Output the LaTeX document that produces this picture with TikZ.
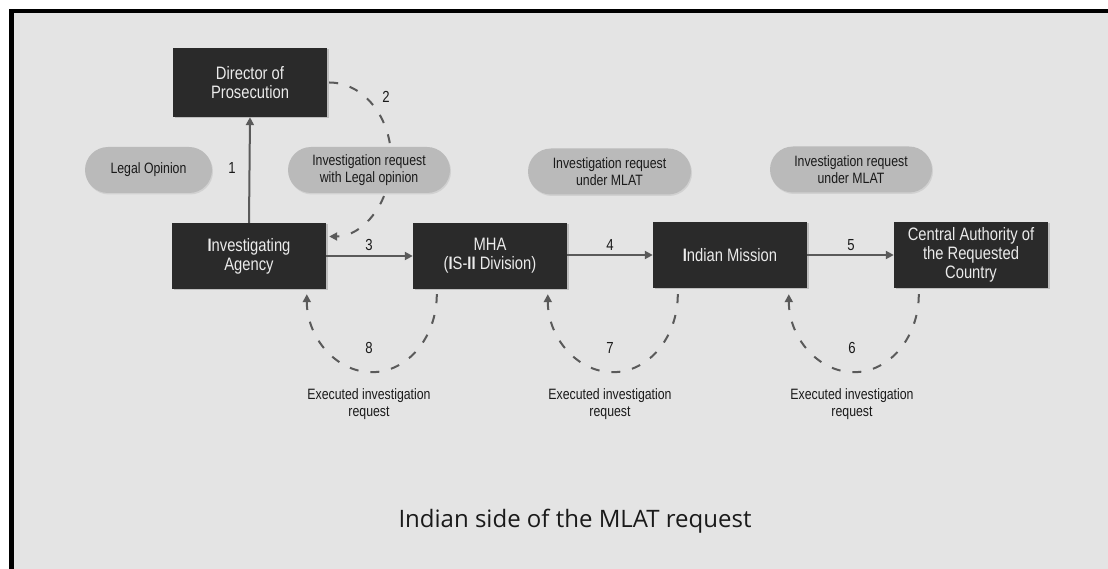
\documentclass[tikz,border=0pt]{standalone}
\usepackage{fontspec}
\newfontfamily\narrow[FakeStretch=0.82]{Liberation Sans}
\newfontfamily\titlefont{Open Sans}
\usetikzlibrary{arrows.meta,shadows}
\definecolor{bg}{HTML}{E4E4E4}
\definecolor{boxfill}{HTML}{2A2A2A}
\definecolor{pillfill}{HTML}{BABABA}
\definecolor{arrowgray}{HTML}{5A5A5A}
\definecolor{txt}{HTML}{1A1A1A}
\tikzset{
  box/.style={fill=boxfill, text=white!92!black, minimum width=154pt, minimum height=66pt,
    inner sep=0pt, align=center, font=\fontsize{18}{19}\selectfont\narrow,
    drop shadow={shadow xshift=1.5pt, shadow yshift=-1.5pt, fill=black!35, opacity=0.6}},
  pill/.style={fill=pillfill, text=txt, minimum height=46pt, rounded corners=23pt,
    inner sep=0pt, align=center, font=\fontsize{15}{17}\selectfont\narrow,
    drop shadow={shadow xshift=1pt, shadow yshift=-1.5pt, fill=black!25, opacity=0.5}},
  num/.style={text=txt, inner sep=0pt, font=\fontsize{16}{18}\selectfont\narrow},
  lbl/.style={text=txt, inner sep=0pt, align=center, font=\fontsize{15}{17}\selectfont\narrow},
  flow/.style={draw=arrowgray, line width=2pt, -{Triangle[length=8pt,width=8pt]}},
  ret/.style={draw=arrowgray, line width=2pt, dash pattern=on 9pt off 12pt,
    -{Triangle[length=8pt,width=8pt]}},
}
\begin{document}
\begin{tikzpicture}[x=1pt,y=-1pt]
\useasboundingbox (0,0) rectangle (1108,569);
\fill[white] (0,0) rectangle (1108,569);
\fill[black] (9,9) rectangle (1108,569);
\fill[bg] (14,13.5) rectangle (1108,569);

% boxes
\node[box] (dp) at (250,82.5) [minimum height=69pt] {Director of\\Prosecution};
\node[box] (ia) at (249,256) {\textbf{I}nvestigating\\Agency};
\node[box] (mha) at (490,256) {MHA\\(\textbf{I}S-\textbf{II} Division)};
\node[box] (im) at (730,255) {\textbf{I}ndian Mission};
\node[box] (ca) at (971,255) {Central Authority of\\the Requested\\Country};

% dashed return arcs
\draw[ret] ([xshift=2pt]dp.east) arc[start angle=90, end angle=-90, x radius=62pt, y radius=77pt];
\draw[ret] ([xshift=24pt,yshift=-5pt]mha.south west) arc[start angle=0, end angle=-180, x radius=65pt, y radius=78pt];
\draw[ret] ([xshift=25pt,yshift=-6pt]im.south west) arc[start angle=0, end angle=-180, x radius=65pt, y radius=78pt];
\draw[ret] ([xshift=25pt,yshift=-6pt]ca.south west) arc[start angle=0, end angle=-180, x radius=65pt, y radius=78pt];

% pills
\node[pill, minimum width=127pt] (p1) at (148.5,170) {Legal Opinion};
\node[pill, minimum width=162pt] (p2) at (369,170) {Investigation request\\with Legal opinion};
\node[pill, minimum width=163pt] (p3) at (609.5,171.5) {Investigation request\\under MLAT};
\node[pill, minimum width=162pt] (p4) at (851,169.5) {Investigation request\\under MLAT};

% solid arrows
\draw[flow] (ia.north) -- (dp.south);
\draw[flow] (ia.east) -- (mha.west);
\draw[flow] (mha.east |- im.west) -- (im.west);
\draw[flow] (im.east) -- (ca.west);

% numbers
\node[num] (n1) at (232,168) {1};
\node[num] (n2) at (386,97) {2};
\node[num] (n3) at (369,245) {3};
\node[num] (n4) at (610,245) {4};
\node[num] (n5) at (851,245) {5};
\node[num] (n6) at (852,348) {6};
\node[num] (n7) at (610,348) {7};
\node[num] (n8) at (369,348) {8};

% labels
\node[lbl] (e8) at (369,404) {Executed investigation\\request};
\node[lbl] (e7) at (610,404) {Executed investigation\\request};
\node[lbl] (e6) at (852,404) {Executed investigation\\request};

% title
\node[text=txt, font=\fontsize{24}{28}\selectfont\titlefont] (title) at (575,521) {Indian side of the MLAT request};
\end{tikzpicture}
\end{document}
